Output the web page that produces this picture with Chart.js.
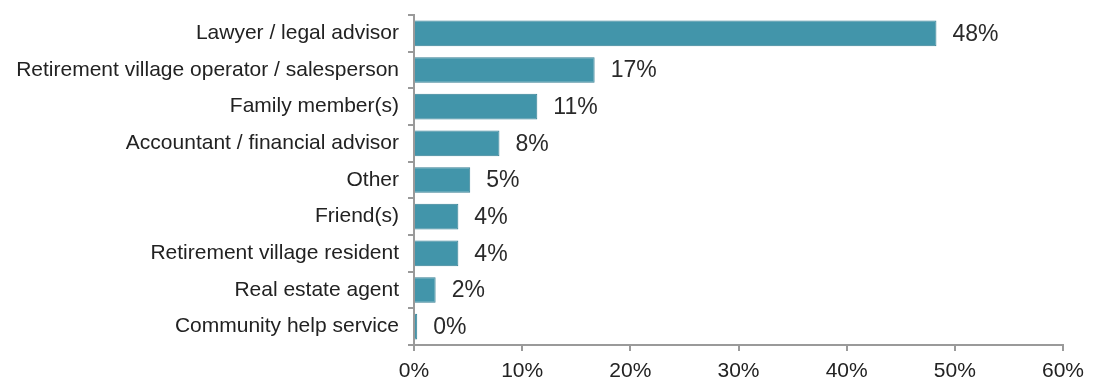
<!DOCTYPE html>
<html>
<head>
<meta charset="utf-8">
<script src="https://cdn.jsdelivr.net/npm/chart.js@4/dist/chart.umd.min.js"></script>
<style>
  html, body { margin: 0; padding: 0; background: #ffffff; }
  #wrap { width: 1093px; height: 379px; position: relative; }
</style>
</head>
<body>
<div id="wrap"><canvas id="chart-fontes"></canvas></div>
<script>
const categorias = [
  "Lawyer / legal advisor",
  "Retirement village operator / salesperson",
  "Family member(s)",
  "Accountant / financial advisor",
  "Other",
  "Friend(s)",
  "Retirement village resident",
  "Real estate agent",
  "Community help service"
];
const percentuais = [48.3, 16.7, 11.4, 7.9, 5.2, 4.1, 4.1, 2.0, 0.3];
const ticksX = [0, 10, 20, 30, 40, 50, 60];

const corBarra = "#4295aa";
const corBorda = "#357f93";
const corEixo = "#9a9a9a";
const corTexto = "#222222";
const fonte = "'Liberation Sans', Arial, sans-serif";

// escreve o valor arredondado logo depois do fim de cada barra
const rotulosValor = {
  id: "rotulosValor",
  afterDatasetsDraw(chart) {
    const { ctx } = chart;
    const meta = chart.getDatasetMeta(0);
    ctx.save();
    ctx.font = "23px " + fonte;
    ctx.fillStyle = "#2a2a2a";
    ctx.textBaseline = "middle";
    ctx.textAlign = "left";
    meta.data.forEach((barra, i) => {
      const texto = Math.round(percentuais[i]) + "%";
      ctx.fillText(texto, barra.x + 16, barra.y + 1);
    });
    ctx.restore();
  }
};

const ctxFontes = document.getElementById("chart-fontes");

const chartFontes = new Chart(ctxFontes, {
  type: "bar",
  data: {
    labels: categorias,
    datasets: [{
      data: percentuais,
      backgroundColor: corBarra,
      borderColor: corBorda,
      borderWidth: 1,
      categoryPercentage: 0.7,
      barPercentage: 1
    }]
  },
  plugins: [rotulosValor],
  options: {
    indexAxis: "y",
    responsive: true,
    maintainAspectRatio: false,
    animation: false,
    layout: {
      padding: { top: 15, right: 30, left: 0, bottom: 0 }
    },
    plugins: {
      legend: { display: false },
      tooltip: { enabled: false }
    },
    scales: {
      x: {
        min: 0,
        max: 60,
        afterBuildTicks(scale) {
          scale.ticks = ticksX.map(v => ({ value: v }));
        },
        afterFit(scale) {
          scale.height = 34;
        },
        border: { display: true, color: corEixo, width: 2 },
        grid: {
          drawOnChartArea: false,
          drawTicks: true,
          tickLength: 6,
          color: corEixo,
          lineWidth: 2
        },
        ticks: {
          color: corTexto,
          padding: 8,
          font: { family: fonte, size: 21 },
          callback: v => v + "%"
        }
      },
      y: {
        afterFit(scale) {
          scale.width = 414;
          // sem folga extra em cima: o topo fica só com o padding do layout
          scale.paddingTop = 0;
          scale.paddingBottom = 0;
        },
        border: { display: true, color: corEixo, width: 2 },
        grid: {
          drawOnChartArea: false,
          drawTicks: true,
          tickLength: 6,
          offset: true,
          color: corEixo,
          lineWidth: 2
        },
        ticks: {
          color: corTexto,
          padding: 9,
          font: { family: fonte, size: 21 }
        }
      }
    }
  }
});
</script>
</body>
</html>
